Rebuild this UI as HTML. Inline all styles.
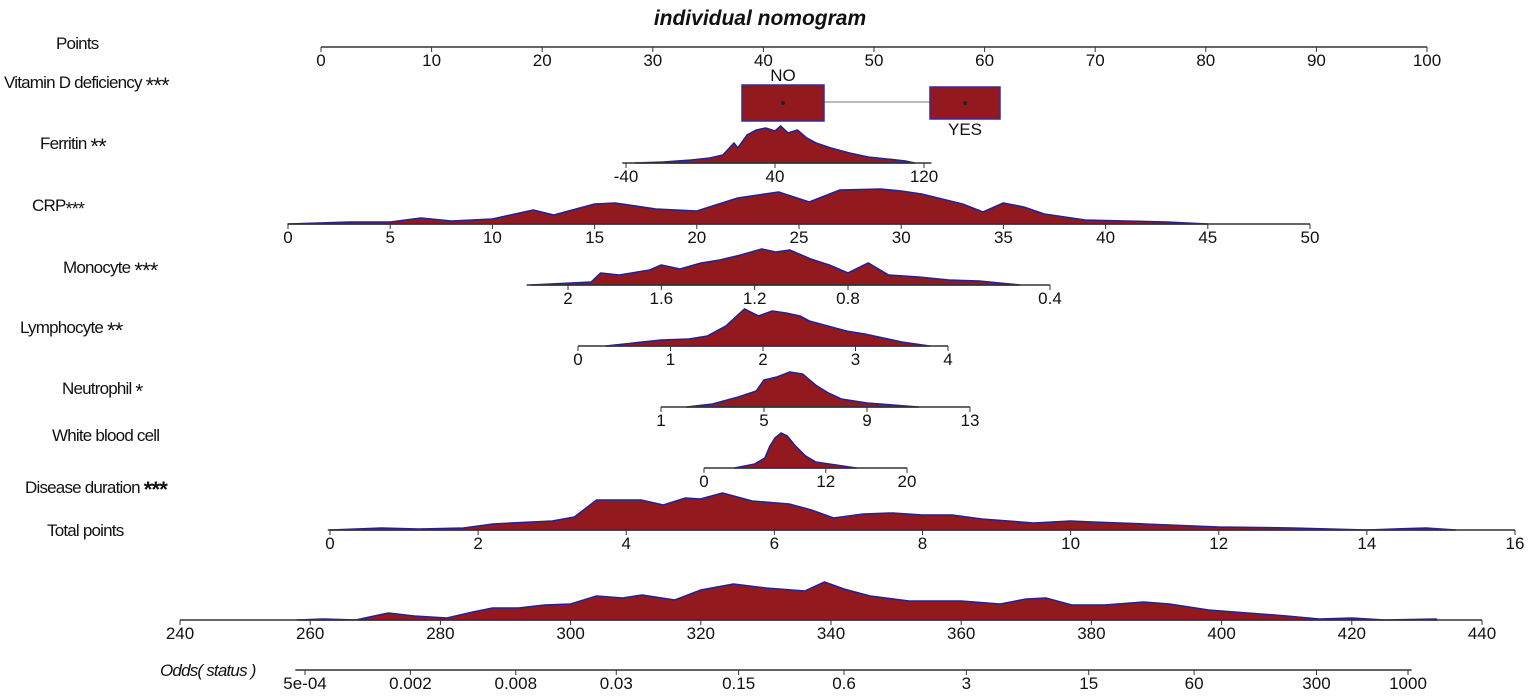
<!DOCTYPE html>
<html><head><meta charset="utf-8"><style>
html,body{margin:0;padding:0;background:#fff;}
svg{display:block;font-family:"Liberation Sans",sans-serif;}
.lbl{font-size:17px;fill:#111;letter-spacing:-0.8px;}
.tk{font-size:17px;fill:#111;text-anchor:middle;}
</style></head><body>
<svg id="chart" width="1535" height="700" viewBox="0 0 1535 700" xmlns="http://www.w3.org/2000/svg">
<text x="760" y="25" font-size="21" font-weight="bold" font-style="italic" text-anchor="middle" fill="#111">individual nomogram</text>
<g>
<text class="lbl" x="56" y="49">Points</text>
<text class="lbl" x="4" y="88">Vitamin D deficiency <tspan font-size="22" dy="5">***</tspan></text>
<text class="lbl" x="40" y="149">Ferritin <tspan font-size="22" dy="5">**</tspan></text>
<text class="lbl" x="32" y="211">CRP<tspan font-size="18" dy="4">***</tspan></text>
<text class="lbl" x="63" y="273">Monocyte <tspan font-size="22" dy="5">***</tspan></text>
<text class="lbl" x="20" y="333">Lymphocyte <tspan font-size="22" dy="5">**</tspan></text>
<text class="lbl" x="62" y="394">Neutrophil <tspan font-size="20" dy="4">*</tspan></text>
<text class="lbl" x="52" y="441">White blood cell</text>
<text class="lbl" x="25" y="493">Disease duration <tspan font-size="22" font-weight="bold" dy="4">***</tspan></text>
<text class="lbl" x="47" y="536">Total points</text>
<text class="lbl" x="160" y="676" font-style="italic">Odds( status )</text>
</g>
<g id="vitd">
<line x1="824" y1="102" x2="930" y2="102" stroke="#bbb" stroke-width="2"/>
<rect x="742" y="85" width="82" height="36" fill="#921a1f" stroke="#3a2a9a" stroke-width="1.5"/>
<circle cx="783" cy="103" r="2" fill="#222"/>
<rect x="930" y="87" width="70" height="32" fill="#921a1f" stroke="#3a2a9a" stroke-width="1.5"/>
<circle cx="965" cy="103" r="2" fill="#222"/>
<text class="tk" x="783" y="81">NO</text>
<text class="tk" x="965" y="135">YES</text>
</g>
<g id="rows"></g>
</svg>
<script>
// ---- data arrays ----
const pointsTicks=[0,10,20,30,40,50,60,70,80,90,100];
const ferritinTicks=[-40,40,120];
const ferritinX=[-35,-20,-5,5,12,18,20,25,30,35,40,43,47,52,57,62,70,80,90,100,110,115];
const ferritinH=[0,1,3,5,8,20,15,28,33,35,32,37,30,33,25,20,15,10,6,4,2,0];
const crpTicks=[0,5,10,15,20,25,30,35,40,45,50];
const crpX=[0,3,5,6.5,8,10,12,13,15,16,18,20,22,24,25.5,27,29,30,31,33,34,35,36,37,39,41,43,45];
const crpH=[0,2,2,6,3,5,14,9,20,21,15,13,26,32,22,34,35,33,30,20,12,21,17,10,4,3,2,0];
const monoTicks=[2,1.6,1.2,0.8,0.4];
const monoX=[2.16,1.9,1.86,1.78,1.65,1.6,1.52,1.43,1.35,1.26,1.17,1.11,1.05,0.96,0.88,0.8,0.76,0.72,0.66,0.6,0.54,0.5,0.46];
const monoH=[0,3,12,10,15,20,16,22,25,30,36,33,35,26,20,12,22,10,8,5,4,2,0];
const lymphTicks=[0,1,2,3,4];
const lymphX=[0.3,0.6,0.9,1.2,1.4,1.6,1.8,1.95,2.1,2.25,2.4,2.5,2.7,2.9,3.1,3.3,3.5,3.8];
const lymphH=[0,3,6,7,10,20,37,30,35,33,30,25,20,15,12,8,4,0];
const neutTicks=[1,5,9,13];
const neutX=[2,3,4,4.7,5,5.5,6,6.5,7,7.5,8,9,10,11];
const neutH=[0,3,10,16,27,30,35,33,22,14,8,4,2,0];
const wbcTicks=[0,12,20];
const wbcX=[3,5,6,6.5,7,7.6,8.2,9,10,11,13,15];
const wbcH=[0,4,10,22,30,35,32,22,12,6,3,0];
const durTicks=[0,2,4,6,8,10,12,14,16];
const durX=[0,0.7,1.2,1.8,2.2,3,3.3,3.6,4.2,4.5,4.8,5,5.3,5.7,6.2,6.5,6.8,7.2,7.6,8,8.4,8.8,9.5,10,10.3,11,12,13,14,14.8,15.2];
const durH=[0,2,1,2,6,9,13,30,30,25,32,31,37,29,26,20,12,16,17,15,15,11,7,9,8,6,3,2,0,2,0];
const totTicks=[240,260,280,300,320,340,360,380,400,420,440];
const totX=[258,262,267,272,276,281,285,288,292,296,300,304,308,311,316,320,325,330,336,339,342,346,352,360,366,370,373,377,382,388,392,398,404,410,415,420,425,433];
const totH=[0,1,0,7,4,2,8,12,12,15,16,24,22,25,20,30,36,32,29,38,31,24,19,19,16,21,22,15,15,18,16,10,7,4,1,2,0,1];
const oddsTicks=[5e-4,0.002,0.008,0.03,0.15,0.6,3,15,60,300,1000];
const oddsLabels=["5e-04","0.002","0.008","0.03","0.15","0.6","3","15","60","300","1000"];

function lin(d0,d1,r0,r1){return v=>r0+(v-d0)/(d1-d0)*(r1-r0);}
function piece(dom,ran){return v=>{
  const n=dom.length; const dir=Math.sign(dom[n-1]-dom[0]);
  let i=n-2;
  for(let k=0;k<n-1;k++){ if((v-dom[k+1])*dir<=0){i=k;break;} }
  const a=dom[i],b=dom[i+1];
  return ran[i]+(v-a)/(b-a)*(ran[i+1]-ran[i]);
};}
function logs(d0,d1,r0,r1){const l0=Math.log10(d0),l1=Math.log10(d1);return v=>r0+(Math.log10(v)-l0)/(l1-l0)*(r1-r0);}

const rows=[
 {name:'points',y:47,sc:lin(0,100,321,1427),ext:[0,100],ticks:pointsTicks},
 {name:'ferritin',y:163,sc:lin(-40,120,626,924),ext:[-42,124],ticks:ferritinTicks,dx:ferritinX,dh:ferritinH},
 {name:'crp',y:224,sc:lin(0,50,288,1310),ext:[0,50],ticks:crpTicks,dx:crpX,dh:crpH},
 {name:'monocyte',y:285,sc:piece([2,0.8,0.4],[568,848,1050]),ext:[2.177,0.4],ticks:monoTicks,dx:monoX,dh:monoH},
 {name:'lymphocyte',y:346,sc:lin(0,4,578,948),ext:[0,4],ticks:lymphTicks,dx:lymphX,dh:lymphH},
 {name:'neutrophil',y:407,sc:lin(1,13,661,970),ext:[1,13],ticks:neutTicks,dx:neutX,dh:neutH},
 {name:'wbc',y:468,sc:lin(0,20,704,907),ext:[0,20],ticks:wbcTicks,dx:wbcX,dh:wbcH},
 {name:'disease-duration',y:530,sc:lin(0,16,330,1515),ext:[-0.03,16],ticks:durTicks,dx:durX,dh:durH},
 {name:'total-points',y:620,sc:lin(240,440,180,1482),ext:[240,440],ticks:totTicks,dx:totX,dh:totH},
 {name:'odds',y:670,sc:logs(5e-4,1000,305,1408),ext:[4.4e-4,1050],ticks:oddsTicks,labels:oddsLabels}
];
const NS='http://www.w3.org/2000/svg';
const G=document.getElementById('rows');
function mk(t,a){const e=document.createElementNS(NS,t);for(const k in a)e.setAttribute(k,a[k]);return e;}
rows.forEach(r=>{
 const g=mk('g',{});
 
 
 if(r.dx){
  let d='M'+r.sc(r.dx[0]).toFixed(1)+','+r.y;
  r.dx.forEach((v,i)=>{d+=' L'+r.sc(v).toFixed(1)+','+(r.y-r.dh[i]);});
  d+=' L'+r.sc(r.dx[r.dx.length-1]).toFixed(1)+','+r.y+' Z';
  const p=mk('path',{d:d,fill:'#921a1f',stroke:'#2b1f8f','stroke-width':'1.6','stroke-linejoin':'round'});
  
  
  g.appendChild(p);
 }
 const ax=mk('line',{x1:r.sc(r.ext[0]),x2:r.sc(r.ext[1]),y1:r.y,y2:r.y,stroke:'#333','stroke-width':'1.5'});
 
 
 g.appendChild(ax);
 r.ticks.forEach((t,i)=>{
  const x=r.sc(t);
  const tl=mk('line',{x1:x,x2:x,y1:r.y,y2:r.y+5,stroke:'#333','stroke-width':'1'});
  
  
  g.appendChild(tl);
  const tx=mk('text',{x:x,y:r.y+19,'class':'tk'});
  if(r.name==='total-points'||r.name==='odds'){tx.setAttribute('font-size','18');}
  tx.textContent=r.labels?r.labels[i]:String(t);
  
  
  g.appendChild(tx);
 });
 G.appendChild(g);
});
</script>
</body></html>
